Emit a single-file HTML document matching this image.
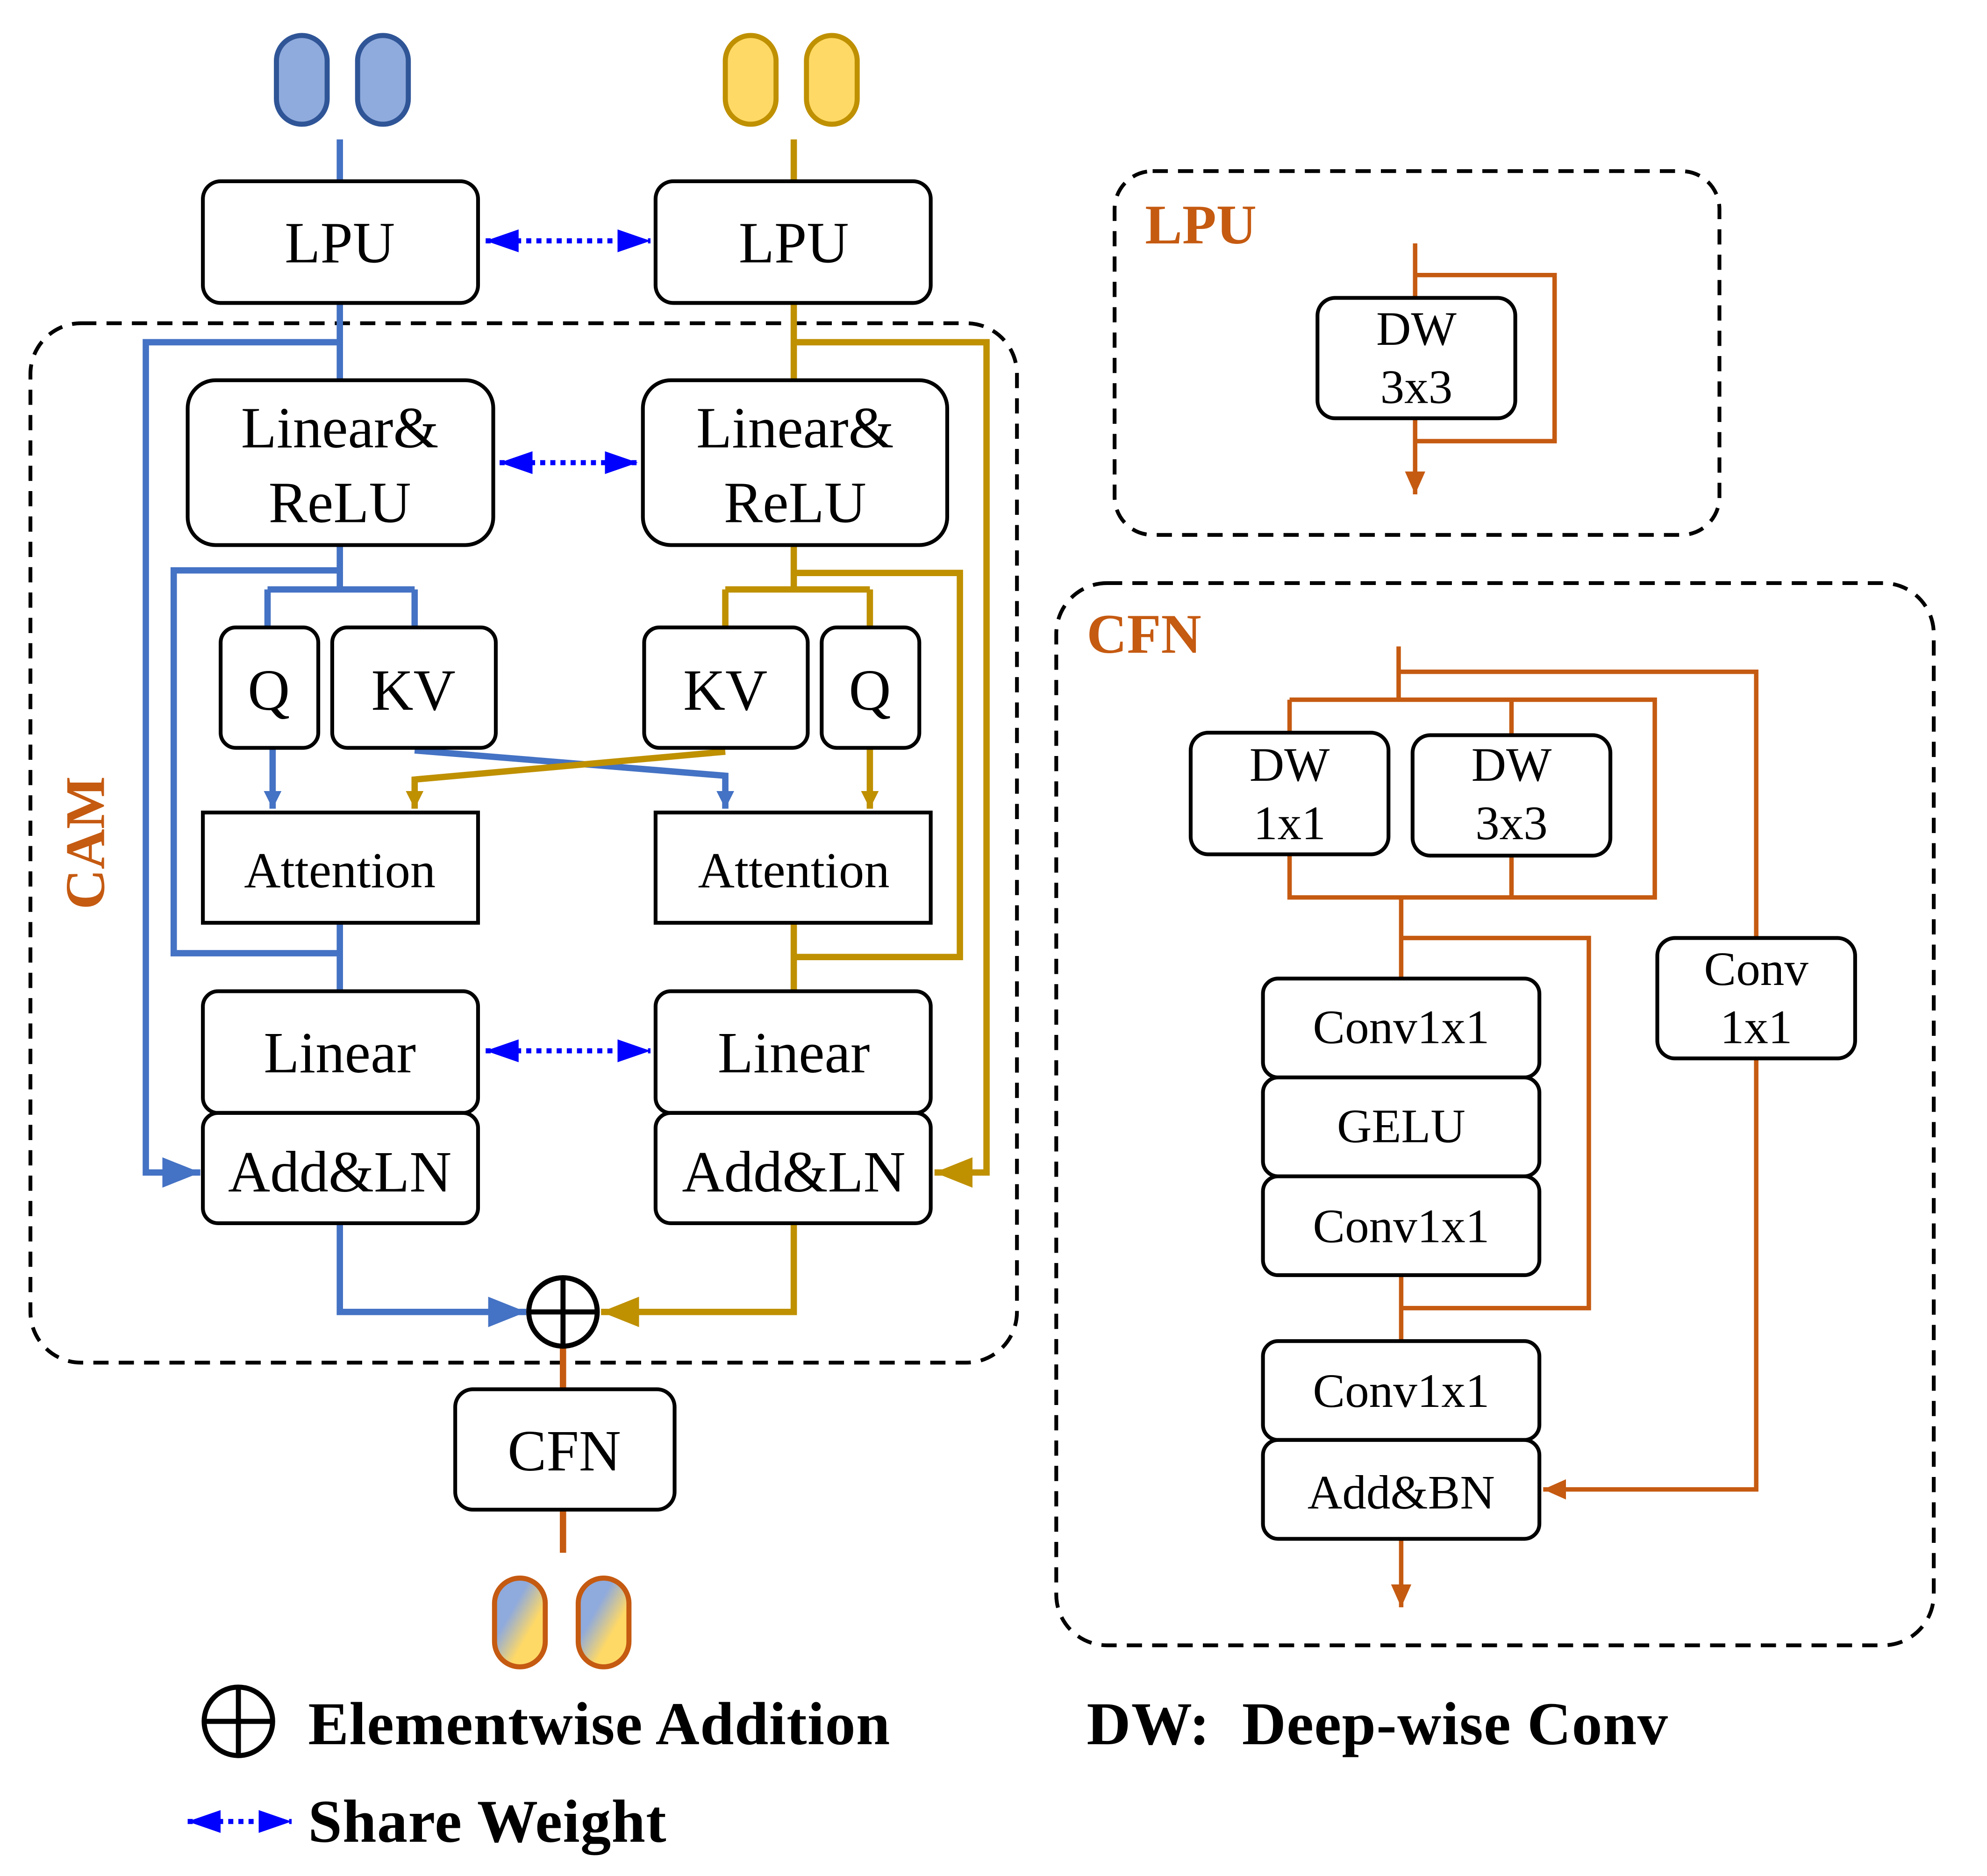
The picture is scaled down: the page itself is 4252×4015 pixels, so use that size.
<!DOCTYPE html>
<html><head><meta charset="utf-8"><style>
html,body{margin:0;padding:0;background:#fff;}
svg{display:block;}
text{font-family:"Liberation Serif",serif;}
</style></head><body>
<svg width="4252" height="4015" viewBox="0 0 1567 1480" preserveAspectRatio="none" xmlns="http://www.w3.org/2000/svg">
<defs>
<marker id="abL" markerWidth="30" markerHeight="24" refX="30" refY="12" orient="auto" markerUnits="userSpaceOnUse"><path d="M0,0 L30,12 L0,24 z" fill="#4472c4"/></marker>
<marker id="ayL" markerWidth="30" markerHeight="24" refX="30" refY="12" orient="auto" markerUnits="userSpaceOnUse"><path d="M0,0 L30,12 L0,24 z" fill="#bf9000"/></marker>
<marker id="abs" markerWidth="14" markerHeight="14" refX="14" refY="7" orient="auto" markerUnits="userSpaceOnUse"><path d="M0,0 L14,7 L0,14 z" fill="#4472c4"/></marker>
<marker id="ays" markerWidth="14" markerHeight="14" refX="14" refY="7" orient="auto" markerUnits="userSpaceOnUse"><path d="M0,0 L14,7 L0,14 z" fill="#bf9000"/></marker>
<marker id="ao" markerWidth="18" markerHeight="16" refX="18" refY="8" orient="auto" markerUnits="userSpaceOnUse"><path d="M0,0 L18,8 L0,16 z" fill="#c55a11"/></marker>
<marker id="sw" markerWidth="26" markerHeight="18" refX="26" refY="9" orient="auto" markerUnits="userSpaceOnUse"><path d="M0,0 L26,9 L0,18 z" fill="#0000ff"/></marker>
<marker id="sws" markerWidth="26" markerHeight="18" refX="0" refY="9" orient="auto" markerUnits="userSpaceOnUse"><path d="M26,0 L0,9 L26,18 z" fill="#0000ff"/></marker>
<linearGradient id="gr" x1="0" y1="0" x2="1" y2="1"><stop offset="0.35" stop-color="#8faadc"/><stop offset="0.65" stop-color="#ffd966"/></linearGradient>
</defs>

<g stroke-width="4">
<rect x="218" y="28" width="40" height="70" rx="20" fill="#8faadc" stroke="#2f5597"/>
<rect x="282" y="28" width="40" height="70" rx="20" fill="#8faadc" stroke="#2f5597"/>
<rect x="572" y="28" width="40" height="70" rx="20" fill="#ffd966" stroke="#bf9000"/>
<rect x="636" y="28" width="40" height="70" rx="20" fill="#ffd966" stroke="#bf9000"/>
<rect x="390" y="1245" width="40" height="70" rx="20" fill="url(#gr)" stroke="#c55a11"/>
<rect x="456" y="1245" width="40" height="70" rx="20" fill="url(#gr)" stroke="#c55a11"/>
</g>

<rect x="24" y="255" width="778" height="820" rx="40" fill="none" stroke="#000" stroke-width="3" stroke-dasharray="12,8"/>
<text x="82" y="665" font-size="44" font-weight="bold" fill="#c55a11" text-anchor="middle" transform="rotate(-90 82 665)">CAM</text>

<g fill="none" stroke="#4472c4" stroke-width="5">
<path d="M268 110 V143"/>
<path d="M268 239 V300"/>
<path d="M268 270 H115 V925 H158" marker-end="url(#abL)"/>
<path d="M268 430 V465"/>
<path d="M268 450 H137 V752 H268"/>
<path d="M268 728 V782"/>
<path d="M211 465 H327 M211 465 V495 M327 465 V495"/>
<path d="M215 590 V638" marker-end="url(#abs)"/>
<path d="M327 592 L572 612 V638" marker-end="url(#abs)"/>
<path d="M268 965 V1035 H415" marker-end="url(#abL)"/>
</g>
<g fill="none" stroke="#bf9000" stroke-width="5">
<path d="M626 110 V143"/>
<path d="M626 239 V300"/>
<path d="M626 270 H778 V925 H737" marker-end="url(#ayL)"/>
<path d="M626 430 V465"/>
<path d="M626 452 H757 V755 H626"/>
<path d="M626 728 V782"/>
<path d="M572 465 H686 M572 465 V495 M686 465 V495"/>
<path d="M686 590 V638" marker-end="url(#ays)"/>
<path d="M572 593 L327 615 V638" marker-end="url(#ays)"/>
<path d="M626 965 V1035 H474" marker-end="url(#ayL)"/>
</g>
<g fill="none" stroke="#c55a11" stroke-width="5">
<path d="M444 1062 V1096 M444 1191 V1225"/>
</g>

<g fill="#fff" stroke="#000" stroke-width="3">
<rect x="160" y="143" width="217" height="96" rx="14"/>
<rect x="517" y="143" width="217" height="96" rx="14"/>
<rect x="148" y="300" width="241" height="130" rx="22"/>
<rect x="507" y="300" width="240" height="130" rx="22"/>
<rect x="174" y="495" width="77" height="95" rx="12"/>
<rect x="262" y="495" width="129" height="95" rx="12"/>
<rect x="508" y="495" width="129" height="95" rx="12"/>
<rect x="648" y="495" width="77" height="95" rx="12"/>
<rect x="160" y="641" width="217" height="87"/>
<rect x="517" y="641" width="217" height="87"/>
<rect x="160" y="782" width="217" height="96" rx="12"/>
<rect x="160" y="878" width="217" height="87" rx="12"/>
<rect x="517" y="782" width="217" height="96" rx="12"/>
<rect x="517" y="878" width="217" height="87" rx="12"/>
<rect x="359" y="1096" width="173" height="95" rx="14"/>
</g>
<g font-size="46" text-anchor="middle" fill="#000">
<text x="268" y="207">LPU</text>
<text x="626" y="207">LPU</text>
<text x="268" y="353">Linear&amp;</text>
<text x="268" y="412">ReLU</text>
<text x="627" y="353">Linear&amp;</text>
<text x="627" y="412">ReLU</text>
<text x="212" y="560">Q</text>
<text x="326" y="560">KV</text>
<text x="572" y="560">KV</text>
<text x="686" y="560">Q</text>
<text x="268" y="700" font-size="40">Attention</text>
<text x="626" y="700" font-size="40">Attention</text>
<text x="268" y="846">Linear</text>
<text x="626" y="846">Linear</text>
<text x="268" y="940">Add&amp;LN</text>
<text x="626" y="940">Add&amp;LN</text>
<text x="445" y="1160">CFN</text>
</g>

<g stroke="#0000ff" stroke-width="4" stroke-dasharray="4,4" fill="none">
<path d="M383 190 H513" marker-end="url(#sw)" marker-start="url(#sws)"/>
<path d="M394 365 H503" marker-end="url(#sw)" marker-start="url(#sws)"/>
<path d="M383 829 H513" marker-end="url(#sw)" marker-start="url(#sws)"/>
<path d="M148 1437 H230" marker-end="url(#sw)" marker-start="url(#sws)"/>
</g>

<g fill="none" stroke="#000" stroke-width="4">
<circle cx="444" cy="1035" r="27"/><path d="M417 1035 H471 M444 1008 V1062"/>
<circle cx="188" cy="1358" r="27"/><path d="M161 1358 H215 M188 1331 V1385"/>
</g>

<g font-size="48" font-weight="bold" fill="#000" letter-spacing="0.5">
<text x="243" y="1376">Elementwise Addition</text>
<text x="243" y="1453">Share Weight</text>
<text x="857" y="1376" xml:space="preserve">DW:  Deep-wise Conv</text>
</g>

<rect x="879" y="135" width="477" height="287" rx="30" fill="none" stroke="#000" stroke-width="3" stroke-dasharray="12,8"/>
<text x="903" y="192" font-size="44" font-weight="bold" fill="#c55a11">LPU</text>
<g fill="none" stroke="#c55a11" stroke-width="3.5">
<path d="M1116 192 V390" marker-end="url(#ao)"/>
<path d="M1116 217 H1226 V348 H1116"/>
</g>
<rect x="1039" y="235" width="156" height="95" rx="14" fill="#fff" stroke="#000" stroke-width="3"/>
<g font-size="38" text-anchor="middle"><text x="1117" y="272">DW</text><text x="1117" y="318">3x3</text></g>

<rect x="833" y="460" width="692" height="838" rx="40" fill="none" stroke="#000" stroke-width="3" stroke-dasharray="12,8"/>
<text x="857" y="515" font-size="44" font-weight="bold" fill="#c55a11">CFN</text>
<g fill="none" stroke="#c55a11" stroke-width="3.5">
<path d="M1103 510 V552"/>
<path d="M1103 530 H1385 V740"/>
<path d="M1385 835 V1175 H1217" marker-end="url(#ao)"/>
<path d="M1017 552 H1305 V708 H1017 V552"/>
<path d="M1192 552 V708"/>
<path d="M1105 708 V772"/>
<path d="M1105 740 H1253 V1032 H1105"/>
<path d="M1105 1006 V1058"/>
<path d="M1105 1214 V1268" marker-end="url(#ao)"/>
</g>
<g fill="#fff" stroke="#000" stroke-width="3">
<rect x="939" y="578" width="156" height="96" rx="14"/>
<rect x="1114" y="580" width="156" height="95" rx="14"/>
<rect x="1307" y="740" width="156" height="95" rx="14"/>
<rect x="996" y="772" width="218" height="78" rx="12"/>
<rect x="996" y="850" width="218" height="78" rx="12"/>
<rect x="996" y="928" width="218" height="78" rx="12"/>
<rect x="996" y="1058" width="218" height="78" rx="12"/>
<rect x="996" y="1136" width="218" height="78" rx="12"/>
</g>
<g font-size="38" text-anchor="middle">
<text x="1017" y="616">DW</text><text x="1017" y="662">1x1</text>
<text x="1192" y="616">DW</text><text x="1192" y="662">3x3</text>
<text x="1385" y="777">Conv</text><text x="1385" y="823">1x1</text>
<text x="1105" y="823">Conv1x1</text>
<text x="1105" y="901">GELU</text>
<text x="1105" y="980">Conv1x1</text>
<text x="1105" y="1110">Conv1x1</text>
<text x="1105" y="1190">Add&amp;BN</text>
</g>
</svg>
</body></html>
